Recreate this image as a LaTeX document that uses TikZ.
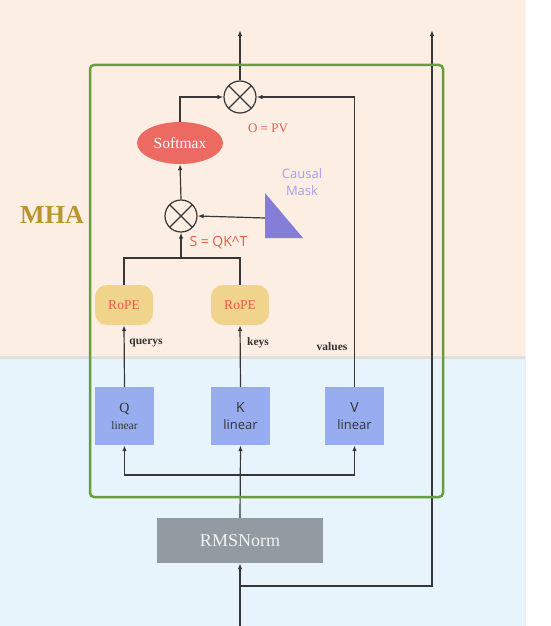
\documentclass[tikz,border=0pt]{standalone}
\usepackage{fontspec}
\setmainfont{Liberation Serif}
\newfontfamily\uisans{Open Sans}
\usetikzlibrary{arrows.meta,positioning,shapes.geometric,calc}
\definecolor{cPeach}{RGB}{253,238,228}
\definecolor{cSky}{RGB}{232,244,252}
\definecolor{cFrame}{RGB}{104,156,62}
\definecolor{cSoft}{RGB}{236,106,98}
\definecolor{cRope}{RGB}{241,212,140}
\definecolor{cLin}{RGB}{152,172,240}
\definecolor{cNorm}{RGB}{145,155,161}
\definecolor{cMask}{RGB}{132,126,214}
\definecolor{cRed}{RGB}{236,90,78}
\definecolor{cLine}{RGB}{55,55,55}
\newcommand{\fs}[1]{\fontsize{#1}{#1}\selectfont}

\tikzset{
  mult/.style={circle, draw=cLine, line width=1.2pt, minimum size=32pt, inner sep=0pt,
    path picture={\draw[cLine, line width=1.2pt]
      (path picture bounding box.south west) -- (path picture bounding box.north east)
      (path picture bounding box.north west) -- (path picture bounding box.south east);}},
  ropebox/.style={fill=cRope, rounded corners=12pt, minimum width=58pt, minimum height=40pt,
    inner sep=0pt, text=cRed, font=\fs{13.5}},
  linbox/.style={fill=cLin, minimum width=59pt, minimum height=58pt, inner sep=0pt,
    align=center, text=black!80},
  tag/.style={font=\bfseries\fs{11.5}, text=black!80},
  wire/.style={cLine, line width=1.2pt}
}

\begin{document}
\begin{tikzpicture}[x=1pt, y=-1pt, >={Latex[length=6pt,width=4.5pt]}]
\useasboundingbox (0,0) rectangle (551,626);
% two bands
\fill[cPeach] (0,0) rectangle (525,357);
\fill[cSky] (0,357) rectangle (525,626);
\draw[black!12, line width=3pt] (0,357) -- (525,357);
\draw[cPeach!80!red!20, line width=1pt] (525,0) -- (525,357);
\draw[cSky!85!blue!40, line width=1pt] (525,357) -- (525,626);

\node[font=\bfseries\fs{26}, text={rgb,255:red,185;green,150;blue,45}] (mhatxt) at (52,215) {MHA};

% blocks
\node[mult] (mulO) at (240,97) {};
\node[ellipse, fill=cSoft, minimum width=86pt, minimum height=42pt, inner sep=0pt,
  text=white, font=\fs{15.5}] (soft) at (180,143) {Softmax};
\node[mult] (mulS) at (181,216) {};
\node[font=\fs{13}, text=cRed] (otxt) at (268,128) {O = PV};
\node[font=\uisans\fs{14}, text=cRed, anchor=west] (stxt) at (186,243) {S = QK\char`\^T};
\node[font=\uisans\fontsize{13}{17}\selectfont, text={rgb,255:red,165;green,160;blue,230}, align=center]
  (masktxt) at (302,182) {Causal\\Mask};
\fill[cMask] (265,193) coordinate (maskT) -- (265,238) -- (303,238) -- cycle;
\coordinate (maskL) at (265,218);

\node[ropebox] (ropeQ) at (124,305) {RoPE};
\node[ropebox] (ropeK) at (240,305) {RoPE};

\node[linbox, font=\fontsize{12}{17}\selectfont] (qlin) at (124.5,416) {{\fs{14}Q}\\{\fs{11.5}linear}};
\node[linbox, font=\uisans\fontsize{13}{17}\selectfont] (klin) at (240.5,416) {{\fs{14}K}\\linear};
\node[linbox, font=\uisans\fontsize{13}{17}\selectfont] (vlin) at (354.5,416) {{\fs{14}V}\\linear};

\node[tag] (qtag) at (146,343) {querys};
\node[tag] (ktag) at (258,343) {keys};
\node[tag] (vtag) at (332,347) {values};

\node[fill=cNorm, minimum width=166pt, minimum height=45pt, inner sep=0pt,
  text=white!90!gray, font=\fs{18}] (rms) at (240,540.5) {RMSNorm};

% junctions
\coordinate (sjoin) at (181,258);
\coordinate (out) at (240,30);
\coordinate (res) at (432,30);
\coordinate (fork) at (240,475);
\coordinate (split) at (240,586);
\coordinate (in) at (240,626);

% wires
\draw[wire] (ropeQ.north) |- (ropeK.north |- sjoin) -- (ropeK.north);
\draw[wire, ->] (sjoin) -- (mulS.south);
\draw[wire, ->] (maskL) -- (mulS.east);
\draw[wire, ->] (mulS.north) -- (soft.south);
\draw[wire, ->] (soft.north) |- (mulO.west);
\draw[wire, ->] (vlin.north) |- (mulO.east);
\draw[wire, ->] (mulO.north) -- (out);
\draw[wire, ->] (qlin.north) -- (ropeQ.south);
\draw[wire, ->] (klin.north) -- (ropeK.south);
\draw[wire, ->] (rms.north) -- (klin.south);
\draw[wire, ->] (fork) -| (qlin.south);
\draw[wire, ->] (fork) -| (vlin.south);
\draw[wire, ->] (in) -- (rms.south);
\draw[wire, ->] (split) -| (res);

% MHA frame
\draw[cFrame, line width=2.5pt, rounded corners=4pt] (90,65) rectangle (443,497);
\end{tikzpicture}
\end{document}
